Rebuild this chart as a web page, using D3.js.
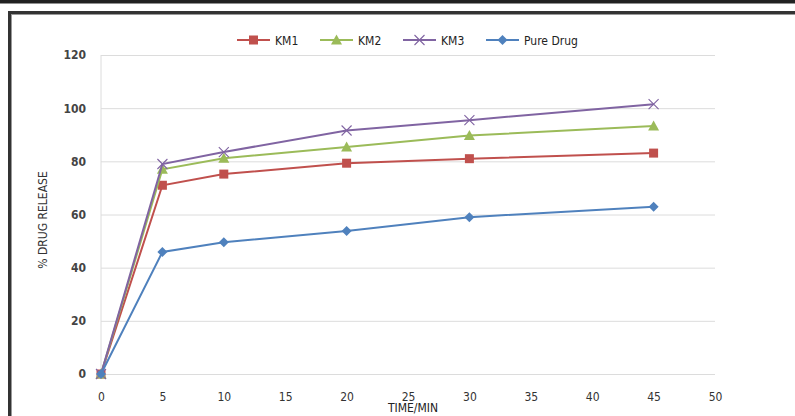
<!DOCTYPE html>
<html>
<head>
<meta charset="utf-8">
<style>
body { margin: 0; background: #fff; }
.axis text { font-family: "DejaVu Sans Condensed", "DejaVu Sans", sans-serif; font-size: 12px; fill: #333; }
.yaxis text { font-weight: bold; fill: #444; }
.grid line { stroke: #dcdcdc; stroke-width: 1; }
.legend text { font-family: "DejaVu Sans Condensed", sans-serif; font-size: 12px; fill: #222; }
</style>
</head>
<body>
<script src="https://d3js.org/d3.v7.min.js"></script>
<script>

// time points (min)
var times = [0, 5, 10, 20, 30, 45];

// % drug release per formulation
var km1 = [0, 71, 75.2, 79.3, 81, 83.1];
var km2 = [0, 77, 81.2, 85.4, 89.7, 93.3];
var km3 = [0, 79, 83.5, 91.6, 95.5, 101.5];
var pure = [0, 45.9, 49.6, 53.8, 59, 62.9];

var seriesNames = ["KM1", "KM2", "KM3", "Pure Drug"];
var xTicks = [0, 5, 10, 15, 20, 25, 30, 35, 40, 45, 50];
var yTicks = [0, 20, 40, 60, 80, 100, 120];

var series = [
    {name: "KM1", values: km1, color: "#c0504d", shape: "square"},
    {name: "KM2", values: km2, color: "#9bbb59", shape: "triangle"},
    {name: "KM3", values: km3, color: "#8064a2", shape: "cross"},
    {name: "Pure Drug", values: pure, color: "#4f81bd", shape: "diamond"}
];

var w = 795, h = 416;
var plot = {left: 101, right: 715, top: 55, bottom: 374};

var svg = d3.select("body").append("svg")
    .attr("width", w)
    .attr("height", h);

// page frame
svg.append("rect").attr("x", 0).attr("y", 0).attr("width", w).attr("height", 3.5).attr("fill", "#222");
svg.append("rect").attr("x", 8).attr("y", 11).attr("width", w - 8).attr("height", 3).attr("fill", "#333");
svg.append("rect").attr("x", 11).attr("y", 14).attr("width", w - 11).attr("height", 1).attr("fill", "#999");
svg.append("rect").attr("x", 8).attr("y", 11).attr("width", 3).attr("height", h - 11).attr("fill", "#333");
svg.append("rect").attr("x", 11).attr("y", 14).attr("width", 1).attr("height", h - 14).attr("fill", "#999");

var x = d3.scaleLinear().domain([0, 50]).range([plot.left, plot.right]);
var y = d3.scaleLinear().domain([0, 120]).range([plot.bottom, plot.top]);

// gridlines
svg.append("g")
    .attr("class", "grid")
    .attr("transform", "translate(" + plot.left + ",0)")
    .call(d3.axisLeft(y).tickValues(yTicks).tickSize(-(plot.right - plot.left)).tickFormat(""))
    .call(function(g) { g.select(".domain").remove(); });

svg.append("line")
    .attr("x1", plot.left).attr("x2", plot.left)
    .attr("y1", plot.top).attr("y2", plot.bottom)
    .attr("stroke", "#dcdcdc");

// axes labels
svg.append("g")
    .attr("class", "axis yaxis")
    .attr("transform", "translate(" + (plot.left - 8) + ",0)")
    .call(d3.axisLeft(y).tickValues(yTicks).tickSize(0).tickPadding(7))
    .call(function(g) { g.select(".domain").remove(); });

svg.append("g")
    .attr("class", "axis")
    .attr("transform", "translate(0," + (plot.bottom + 13) + ")")
    .call(d3.axisBottom(x).tickValues(xTicks).tickSize(0).tickPadding(5))
    .call(function(g) { g.select(".domain").remove(); });

svg.append("text")
    .attr("transform", "translate(47,220) rotate(-90)")
    .attr("text-anchor", "middle")
    .style("font-family", "DejaVu Sans Condensed, sans-serif")
    .style("font-size", "12px")
    .attr("fill", "#333")
    .text("% DRUG RELEASE");

// sits under the "25" tick, as in the original
svg.append("text")
    .attr("x", 413)
    .attr("y", 412)
    .attr("text-anchor", "middle")
    .style("font-family", "DejaVu Sans Condensed, sans-serif")
    .style("font-size", "12px")
    .attr("fill", "#222")
    .text("TIME/MIN");

function marker(sel, shape, color) {
    if (shape == "square") {
        sel.append("rect").attr("x", -4.5).attr("y", -4.5).attr("width", 9).attr("height", 9).attr("fill", color);
    } else if (shape == "triangle") {
        sel.append("path").attr("d", "M0,-5.5L5.5,4.5L-5.5,4.5Z").attr("fill", color);
    } else if (shape == "cross") {
        sel.append("path").attr("d", "M-5,-5L5,5M-5,5L5,-5").attr("stroke", color).attr("stroke-width", 1.1).attr("fill", "none");
    } else {
        sel.append("path").attr("d", "M0,-5L5,0L0,5L-5,0Z").attr("fill", color);
    }
}

var line = d3.line()
    .x(function(d, i) { return x(times[i]); })
    .y(function(d) { return y(d); });

series.forEach(function(s) {
    svg.append("path")
        .datum(s.values)
        .attr("d", line)
        .attr("fill", "none")
        .attr("stroke", s.color)
        .attr("stroke-width", 2);

    svg.selectAll(null)
        .data(s.values)
        .enter()
        .append("g")
        .attr("transform", function(d, i) { return "translate(" + x(times[i]) + "," + y(d) + ")"; })
        .each(function() { marker(d3.select(this), s.shape, s.color); });
});

// legend
var legendX = [237, 320, 403, 486];
var legend = svg.append("g").attr("class", "legend");
series.forEach(function(s, i) {
    var g = legend.append("g").attr("transform", "translate(" + legendX[i] + ",40)");
    g.append("line").attr("x1", 0).attr("x2", 33).attr("stroke", s.color).attr("stroke-width", 2);
    var m = g.append("g").attr("transform", "translate(16.5,0)");
    marker(m, s.shape, s.color);
    g.append("text").attr("x", 38).attr("y", 4.5).text(seriesNames[i]);
});

</script>
</body>
</html>
